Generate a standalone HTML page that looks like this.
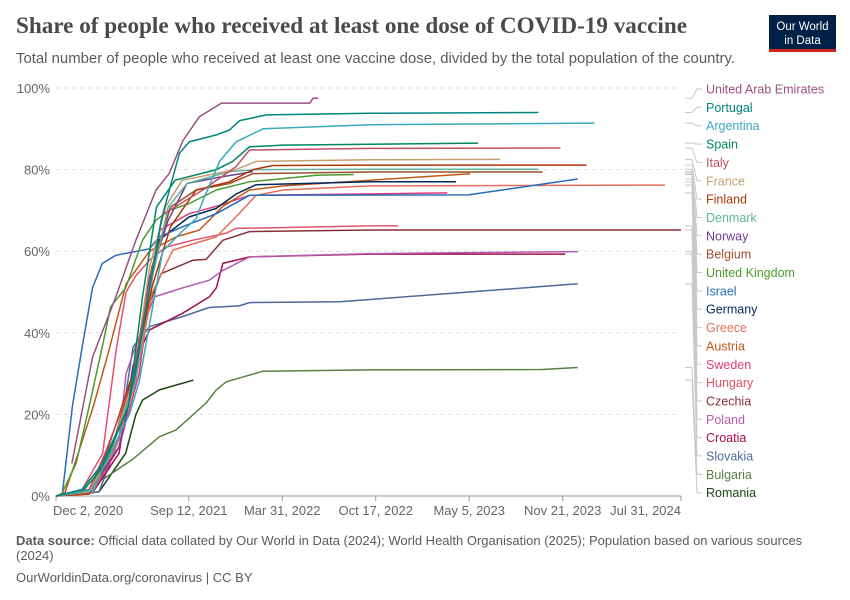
<!DOCTYPE html>
<html><head><meta charset="utf-8"><style>
html,body{margin:0;padding:0;background:#fff;}
svg{display:block;font-family:"Liberation Sans",sans-serif;}
</style></head><body>
<svg id="chart" width="850" height="600" viewBox="0 0 850 600" xmlns="http://www.w3.org/2000/svg">
<text x="16" y="33" font-family="Liberation Serif, serif" font-weight="bold" font-size="23" fill="#4a4a4a" textLength="671" lengthAdjust="spacingAndGlyphs">Share of people who received at least one dose of COVID-19 vaccine</text>
<text x="16" y="63" font-size="15" fill="#5b5b5b" textLength="719" lengthAdjust="spacingAndGlyphs">Total number of people who received at least one vaccine dose, divided by the total population of the country.</text>
<g>
<rect x="769" y="15" width="67" height="37" fill="#002147"/>
<rect x="769" y="49" width="67" height="3" fill="#ce261e"/>
<text x="802.5" y="30" font-size="11.5" fill="#fff" text-anchor="middle">Our World</text>
<text x="802.5" y="44" font-size="11.5" fill="#fff" text-anchor="middle">in Data</text>
</g>
<g id="grid"></g>
<g id="lines"></g>
<g id="legend"></g>
<text x="16" y="545" font-size="13" fill="#5b5b5b"><tspan font-weight="bold">Data source:</tspan> Official data collated by Our World in Data (2024); World Health Organisation (2025); Population based on various sources</text>
<text x="16" y="560" font-size="13" fill="#5b5b5b">(2024)</text>
<text x="16" y="582" font-size="13" fill="#5b5b5b">OurWorldinData.org/coronavirus | CC BY</text>
</svg>
<script>
const countries = ["United Arab Emirates","Portugal","Argentina","Spain","Italy","France","Finland","Denmark","Norway","Belgium","United Kingdom","Israel","Germany","Greece","Austria","Sweden","Hungary","Czechia","Poland","Croatia","Slovakia","Bulgaria","Romania"];
const colors = ["#9b4f7f","#00847e","#38aaba","#00875e","#c15065","#c4a070","#b13507","#5fb49c","#6d3e91","#9a5129","#4c9b30","#286bbb","#00295b","#e56e5a","#c05917","#e03b7a","#e2526b","#883039","#b35cae","#a50e4c","#4c6a9c","#578145","#18470f"];
const xTickDays = [0,284,484,684,884,1084,1337];
const xTickLabels = ["Dec 2, 2020","Sep 12, 2021","Mar 31, 2022","Oct 17, 2022","May 5, 2023","Nov 21, 2023","Jul 31, 2024"];
const yTicks = [0,20,40,60,80,100];
const seriesDays = [
 [34,78,128,171,214,242,271,307,354,543,550,561],
 [0,56,100,155,191,225,264,285,343,371,393,450,672,1032],
 [0,78,157,178,228,271,300,313,350,385,443,672,1152],
 [0,56,100,155,185,215,255,343,378,414,486,903],
 [0,71,105,160,195,228,314,385,414,672,1079],
 [0,71,115,165,200,235,270,385,428,672,950],
 [0,71,112,170,205,245,300,371,421,464,672,1135],
 [0,78,120,170,205,240,280,371,428,672,1032],
 [0,71,135,170,198,240,280,343,421],
 [0,71,120,170,205,245,300,371,421,672,1041],
 [10,43,71,99,117,149,185,214,242,285,343,414,486,557,637],
 [13,35,56,78,99,128,200,221,271,343,414,882,1116],
 [0,78,120,170,200,220,285,343,385,428,672,856],
 [0,78,128,170,205,250,343,385,428,486,672,1303],
 [0,20,49,80,114,150,200,257,307,357,414,486,672,886],
 [0,78,135,178,200,222,285,343,414,837],
 [0,56,100,129,150,171,200,235,293,364,385,672,732],
 [0,78,135,170,192,225,293,321,357,414,672,1337],
 [0,78,135,150,170,210,271,328,357,414,672,1116],
 [0,78,135,165,200,271,328,343,357,414,672,1090],
 [0,92,135,165,200,271,328,392,414,607,1116],
 [99,164,221,257,321,343,364,443,672,1040,1116],
 [0,92,149,171,185,221,294]
];
const seriesValues = [
 [8,34,48.8,62.7,75,79,87,93,96.3,96.3,97.5,97.5],
 [0,1.6,8,22,44.8,67.6,84,86.8,88.5,89.7,92,93.4,93.8,94],
 [0,1.5,20,28,60,65,68,72,82,86.8,90,91,91.4],
 [0,1,7,22,48.8,70.8,77.4,80,82,85.6,86,86.5],
 [0,1.6,10.5,27,48.8,69,75,80.7,84.8,85.2,85.3],
 [0,1,10.5,28,56,71,77.4,80,82,82.4,82.5],
 [0,0.5,12,32,51,66,75,77,80,81,81.1,81.1],
 [0,1,12,28,52.9,70.8,76.6,79.5,80,80.1,80.1],
 [0,1,12,30,52.9,67.6,76.6,78,79.5],
 [0,1,12,32,56,70.8,75,76.6,79,79.4,79.4],
 [0,8,22,36.6,46.4,51,62.7,67.6,70,71.7,75,77,77.8,78.6,78.8],
 [0,22,36.6,51,57,59,60.6,63.5,66,69.2,73.7,73.8,77.7],
 [0,1,12,28,52.9,62.7,68.4,70.5,74,76.3,77,77],
 [0,1,12,28,49.6,60.3,63.5,68.4,73.7,75,76,76.2],
 [0,1,11,22,36,52,60,63.5,65.2,71,75,76,77.4,79],
 [0,1,12,30,48.8,65.2,69.2,71,73.7,74.3],
 [0,1.6,10.5,36,50,54,57.8,61,62.7,64.4,65.6,66.2,66.2],
 [0,1,12,30,44.8,54.5,57.8,58,62.7,64.8,65.2,65.2],
 [0,1,14,30,36.6,48.8,51,52.9,55.3,58.6,59.4,59.9],
 [0,0.8,10.5,32,40.7,44.8,48.8,51,57,58.6,59.3,59.3],
 [0,1,14,36.6,41.5,44,46.2,46.6,47.4,47.6,52],
 [4,9,14.5,16.2,22.8,26,28,30.6,30.9,31,31.5],
 [0,1,10.5,20,23.5,26,28.4]
];
const NS="http://www.w3.org/2000/svg";
const X0=56,X1=681,Y0=496,Y1=88,MAXD=1337;
function xs(d){return X0+(X1-X0)*d/MAXD;}
function ys(v){return Y0-(Y0-Y1)*v/100;}
function mk(tag,attrs,parent){const e=document.createElementNS(NS,tag);for(const k in attrs)e.setAttribute(k,attrs[k]);parent.appendChild(e);return e;}
const grid=document.getElementById('grid');
yTicks.forEach(t=>{
 if(t>0){const gl=mk('line',{x1:X0,x2:X1,y1:ys(t),y2:ys(t),stroke:'#dddddd','stroke-dasharray':'4,4'},grid);
 
 }
 const tl=mk('text',{x:50,y:ys(t)+5,'font-size':13,fill:'#666','text-anchor':'end'},grid);
 tl.textContent=t+'%';
 
 
});
const ax=mk('line',{x1:X0,x2:X1,y1:Y0,y2:Y0,stroke:'#999'},grid);


xTickDays.forEach((d,i)=>{
 const tk=mk('line',{x1:xs(d),x2:xs(d),y1:Y0,y2:Y0+5,stroke:'#999'},grid);
 
 
 let anchor='middle',x=xs(d);
 if(i===0){anchor='start';x=X0-3;}
 if(i===xTickDays.length-1){anchor='end';x=X1;}
 const tl=mk('text',{x:x,y:515,'font-size':13,fill:'#666','text-anchor':anchor},grid);
 tl.textContent=xTickLabels[i];
 
 
});
const lines=document.getElementById('lines');
const legend=document.getElementById('legend');
for(let i=countries.length-1;i>=0;i--){
 const pts=seriesDays[i].map((d,j)=>xs(d).toFixed(1)+','+ys(seriesValues[i][j]).toFixed(1)).join(' ');
 const pl=mk('polyline',{points:pts,fill:'none',stroke:colors[i],'stroke-width':1.5,'stroke-linejoin':'round'},lines);
 
 
}
countries.forEach((c,i)=>{
 const ly=89+i*18.35;
 const last=seriesValues[i][seriesValues[i].length-1];
 const dy=ys(last);
 const cn=mk('polyline',{points:`685,${dy.toFixed(1)} 692,${dy.toFixed(1)} 697,${ly.toFixed(1)} 702,${ly.toFixed(1)}`,fill:'none',stroke:'#c8c8c8','stroke-width':1},legend);
 
 
 const t=mk('text',{x:706,y:ly+4.5,'font-size':12.5,fill:colors[i]},legend);
 t.textContent=c;
 
 
});
</script>
</body></html>
